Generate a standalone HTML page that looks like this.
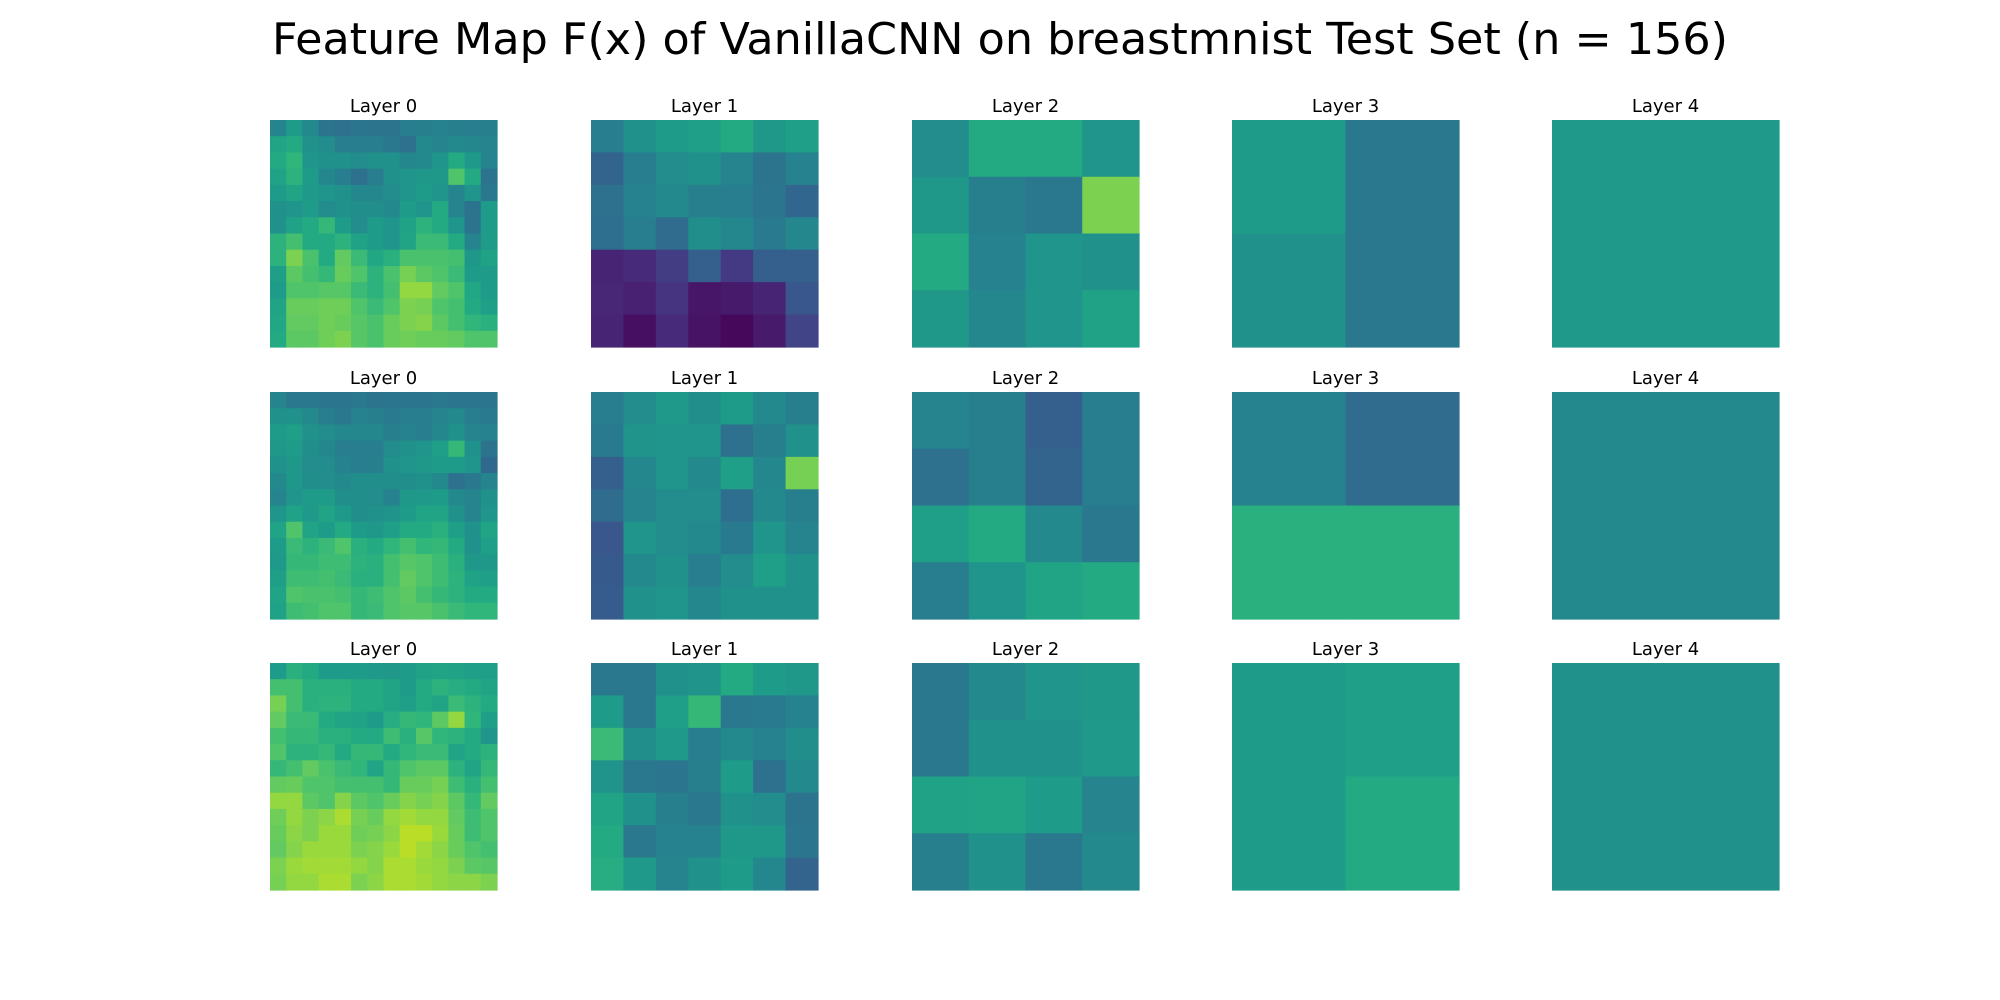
<!DOCTYPE html>
<html><head><meta charset="utf-8"><style>
html,body{margin:0;padding:0;background:#fff;}
svg{display:block;}
</style></head><body>
<svg id="fig" width="2000" height="1000" viewBox="0 0 2000 1000" xmlns="http://www.w3.org/2000/svg">
<rect width="2000" height="1000" fill="#fff"/>
<text x="1000" y="54" text-anchor="middle" font-family="DejaVu Sans, Liberation Sans, sans-serif" font-size="44" textLength="1456" lengthAdjust="spacingAndGlyphs" fill="#000">Feature Map F(x) of VanillaCNN on breastmnist Test Set (n = 156)</text>
<g id="panels"></g>
</svg>
<script>
const layerNames = ["Layer 0","Layer 1","Layer 2","Layer 3","Layer 4"];
const s0l0 = [
[0.45,0.55,0.47,0.38,0.37,0.39,0.38,0.38,0.42,0.43,0.44,0.43,0.42,0.43],
[0.58,0.6,0.5,0.48,0.42,0.42,0.42,0.40,0.37,0.47,0.45,0.47,0.46,0.45],
[0.6,0.64,0.52,0.5,0.5,0.48,0.5,0.5,0.46,0.47,0.52,0.6,0.54,0.45],
[0.57,0.63,0.55,0.46,0.42,0.37,0.42,0.5,0.52,0.53,0.53,0.7,0.6,0.38],
[0.55,0.58,0.54,0.52,0.5,0.46,0.46,0.48,0.52,0.55,0.52,0.45,0.52,0.4],
[0.5,0.52,0.55,0.48,0.5,0.49,0.49,0.47,0.55,0.52,0.6,0.45,0.38,0.55],
[0.5,0.57,0.6,0.65,0.55,0.48,0.55,0.52,0.57,0.63,0.6,0.52,0.38,0.55],
[0.63,0.68,0.6,0.6,0.63,0.57,0.55,0.52,0.58,0.66,0.66,0.6,0.45,0.55],
[0.63,0.77,0.69,0.6,0.73,0.66,0.59,0.62,0.69,0.69,0.69,0.68,0.53,0.57],
[0.56,0.72,0.68,0.65,0.74,0.7,0.63,0.69,0.76,0.72,0.7,0.66,0.55,0.55],
[0.55,0.7,0.7,0.71,0.71,0.66,0.63,0.68,0.8,0.8,0.73,0.7,0.59,0.55],
[0.58,0.74,0.74,0.75,0.75,0.7,0.66,0.7,0.77,0.76,0.7,0.68,0.6,0.56],
[0.59,0.73,0.73,0.75,0.74,0.71,0.69,0.74,0.77,0.78,0.72,0.68,0.64,0.62],
[0.6,0.72,0.72,0.75,0.77,0.71,0.69,0.74,0.75,0.74,0.74,0.73,0.7,0.7]];
const s1l0 = [
[0.45,0.4,0.4,0.39,0.39,0.4,0.38,0.39,0.39,0.39,0.4,0.39,0.39,0.39],
[0.5,0.5,0.47,0.42,0.4,0.44,0.43,0.41,0.42,0.42,0.45,0.47,0.42,0.41],
[0.55,0.56,0.5,0.48,0.46,0.46,0.46,0.43,0.44,0.42,0.46,0.5,0.45,0.44],
[0.53,0.55,0.49,0.46,0.42,0.42,0.42,0.48,0.5,0.52,0.56,0.65,0.5,0.38],
[0.5,0.53,0.48,0.48,0.44,0.42,0.43,0.5,0.52,0.53,0.55,0.55,0.52,0.34],
[0.47,0.53,0.49,0.48,0.47,0.49,0.49,0.49,0.49,0.5,0.47,0.37,0.4,0.45],
[0.45,0.52,0.55,0.55,0.49,0.49,0.48,0.44,0.53,0.54,0.55,0.47,0.45,0.5],
[0.52,0.57,0.54,0.58,0.54,0.49,0.5,0.51,0.55,0.58,0.58,0.5,0.45,0.52],
[0.58,0.7,0.58,0.55,0.6,0.55,0.53,0.56,0.6,0.6,0.62,0.56,0.5,0.58],
[0.55,0.66,0.63,0.66,0.7,0.62,0.6,0.64,0.68,0.64,0.65,0.6,0.5,0.56],
[0.54,0.65,0.65,0.67,0.67,0.63,0.62,0.68,0.71,0.7,0.67,0.62,0.53,0.53],
[0.56,0.67,0.67,0.68,0.66,0.62,0.62,0.68,0.73,0.7,0.67,0.63,0.57,0.56],
[0.58,0.7,0.69,0.69,0.68,0.65,0.67,0.7,0.72,0.68,0.65,0.63,0.6,0.6],
[0.57,0.67,0.68,0.7,0.7,0.65,0.66,0.7,0.71,0.71,0.69,0.66,0.64,0.64]];
const s2l0 = [
[0.55,0.62,0.6,0.55,0.55,0.55,0.54,0.53,0.55,0.57,0.58,0.57,0.56,0.56],
[0.68,0.68,0.62,0.62,0.62,0.6,0.6,0.58,0.55,0.6,0.63,0.61,0.6,0.58],
[0.76,0.68,0.62,0.63,0.63,0.6,0.6,0.58,0.56,0.6,0.58,0.66,0.63,0.6],
[0.73,0.66,0.66,0.6,0.58,0.57,0.55,0.61,0.65,0.64,0.72,0.8,0.64,0.56],
[0.68,0.65,0.65,0.62,0.62,0.6,0.6,0.67,0.62,0.71,0.64,0.63,0.6,0.52],
[0.7,0.63,0.63,0.65,0.6,0.65,0.65,0.6,0.64,0.66,0.66,0.58,0.6,0.63],
[0.65,0.68,0.73,0.69,0.66,0.64,0.58,0.65,0.7,0.72,0.72,0.63,0.58,0.65],
[0.73,0.74,0.7,0.7,0.68,0.68,0.68,0.65,0.74,0.74,0.76,0.67,0.62,0.68],
[0.8,0.8,0.72,0.7,0.78,0.72,0.7,0.74,0.78,0.76,0.78,0.72,0.65,0.73],
[0.75,0.8,0.77,0.79,0.83,0.76,0.74,0.8,0.82,0.8,0.8,0.73,0.67,0.7],
[0.74,0.79,0.77,0.81,0.81,0.75,0.76,0.79,0.85,0.85,0.81,0.74,0.67,0.7],
[0.73,0.78,0.81,0.81,0.81,0.77,0.78,0.81,0.85,0.82,0.79,0.74,0.7,0.68],
[0.77,0.81,0.82,0.82,0.82,0.8,0.78,0.83,0.83,0.81,0.8,0.77,0.72,0.71],
[0.76,0.8,0.8,0.83,0.83,0.77,0.79,0.83,0.83,0.82,0.8,0.79,0.79,0.77]];
const s0l1 = [
[0.42,0.5,0.55,0.56,0.6,0.53,0.56],
[0.32,0.42,0.48,0.5,0.45,0.38,0.44],
[0.37,0.44,0.47,0.43,0.42,0.39,0.33],
[0.36,0.42,0.35,0.49,0.46,0.41,0.46],
[0.1,0.12,0.18,0.3,0.17,0.3,0.3],
[0.11,0.09,0.15,0.06,0.07,0.1,0.27],
[0.1,0.04,0.12,0.05,0.02,0.07,0.2]];
const s1l1 = [
[0.42,0.48,0.54,0.49,0.55,0.47,0.43],
[0.41,0.51,0.52,0.52,0.37,0.43,0.5],
[0.3,0.46,0.52,0.47,0.56,0.46,0.76],
[0.35,0.45,0.48,0.48,0.36,0.47,0.43],
[0.27,0.52,0.48,0.47,0.41,0.52,0.45],
[0.28,0.47,0.5,0.42,0.48,0.56,0.5],
[0.29,0.5,0.52,0.46,0.5,0.5,0.5]];
const s2l1 = [
[0.4,0.4,0.5,0.51,0.6,0.55,0.53],
[0.55,0.4,0.56,0.65,0.4,0.41,0.44],
[0.66,0.49,0.54,0.42,0.47,0.44,0.49],
[0.51,0.4,0.39,0.43,0.55,0.37,0.47],
[0.58,0.5,0.43,0.4,0.5,0.48,0.38],
[0.6,0.4,0.44,0.44,0.53,0.53,0.39],
[0.61,0.54,0.45,0.5,0.55,0.46,0.32]];
const s0l2 = [[0.48,0.6,0.6,0.52],[0.53,0.43,0.4,0.77],[0.6,0.44,0.52,0.5],[0.53,0.46,0.52,0.57]];
const s1l2 = [[0.45,0.43,0.3,0.42],[0.37,0.43,0.32,0.42],[0.56,0.6,0.47,0.4],[0.42,0.52,0.58,0.6]];
const s2l2 = [[0.4,0.47,0.52,0.53],[0.4,0.5,0.5,0.54],[0.57,0.58,0.55,0.45],[0.43,0.5,0.4,0.47]];
const s0l3 = [[0.55,0.4],[0.5,0.4]];
const s1l3 = [[0.44,0.35],[0.62,0.62]];
const s2l3 = [[0.55,0.56],[0.55,0.6]];
const s0l4 = [[0.54]];
const s1l4 = [[0.47]];
const s2l4 = [[0.5]];
const grid = [
  [s0l0,s0l1,s0l2,s0l3,s0l4],
  [s1l0,s1l1,s1l2,s1l3,s1l4],
  [s2l0,s2l1,s2l2,s2l3,s2l4]];

const VIR = ["#440154","#471365","#482475","#463480","#414487","#3b528b","#355f8d","#2f6c8e","#2a788e","#25848e","#21918c","#1e9c89","#22a884","#2fb47c","#44bf70","#5ec962","#7ad151","#9bd93c","#bddf26","#dfe318","#fde725"];
function hex(h){return [1,3,5].map(i=>parseInt(h.substr(i,2),16));}
function viridis(v){
  if(v>0.55) v = v + (v-0.55)*0.15;
  v=Math.max(0,Math.min(1,v));
  const p=v*(VIR.length-1), i=Math.min(Math.floor(p),VIR.length-2), f=p-i;
  const a=hex(VIR[i]), b=hex(VIR[i+1]);
  return "rgb("+a.map((c,k)=>Math.round(c+(b[k]-c)*f)).join(",")+")";
}
const NS="http://www.w3.org/2000/svg";
const colX=[270,591,912,1232,1552], rowY=[120,392,663], SIZE=227;
const g=document.getElementById("panels");
grid.forEach((row,ri)=>{
  row.forEach((mat,ci)=>{
    const n=mat.length, cs=SIZE/n, x0=colX[ci], y0=rowY[ri];
    const pg=document.createElementNS(NS,"g");
    
    
    const t=document.createElementNS(NS,"text");
    t.setAttribute("x",x0+SIZE/2);t.setAttribute("y",y0-8);
    t.setAttribute("text-anchor","middle");t.setAttribute("font-size","18");
    t.setAttribute("font-family","DejaVu Sans, Liberation Sans, sans-serif");
    t.textContent=layerNames[ci];
    
    
    pg.appendChild(t);
    mat.forEach((r,yi)=>r.forEach((v,xi)=>{
      const c=document.createElementNS(NS,"rect");
      c.setAttribute("x",x0+xi*cs);c.setAttribute("y",y0+yi*cs);
      c.setAttribute("width",cs+0.6);c.setAttribute("height",cs+0.6);
      c.setAttribute("fill",viridis(v));
      
      
      pg.appendChild(c);
    }));
    g.appendChild(pg);
  });
});
</script>
</body></html>
